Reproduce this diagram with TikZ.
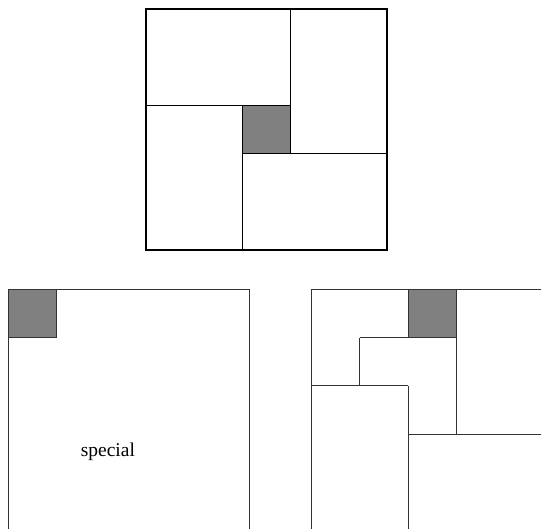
\documentclass[tikz,border=0pt]{standalone}
\usepackage{fontspec}
\setmainfont{Liberation Serif}
\begin{document}
\begin{tikzpicture}[
    every node/.style={font=\fontsize{11.5}{13}\selectfont},
    boldline/.style={draw=black, line width=0.9pt},
    thinline/.style={draw=black!80, line width=0.55pt},
    hole/.style={fill=black!50},
  ]

  % --- Frame ---
  \useasboundingbox (-3.03,-5.78) rectangle (8.20,5.19);
  \clip (-3.03,-5.78) rectangle (8.20,5.19);

  % --- Top: pinwheel ---
  \begin{scope}
    \fill[hole] (2,2) rectangle (3,3);
    \draw[boldline] (0,0) rectangle (5,5);
    \draw[boldline] (3,5) -- (3,2);
    \draw[boldline] (0,3) -- (3,3);
    \draw[boldline] (2,3) -- (2,0);
    \draw[boldline] (2,2) -- (5,2);
    \draw[boldline] (2,2) rectangle (3,3);
  \end{scope}

  % --- Bottom left: special ---
  \begin{scope}[shift={(-2.86,-5.82)}]
    \fill[hole] (0,4) rectangle (1,5);
    \draw[thinline] (0,0) rectangle (5,5);
    \draw[thinline] (0,4) rectangle (1,5);
    \node (special) at (2.07,1.63) {special};
  \end{scope}

  % --- Bottom right: staircase ---
  \begin{scope}[shift={(3.44,-5.82)}]
    \fill[hole] (2,4) rectangle (3,5);
    \draw[thinline] (0,0) rectangle (5,5);
    \draw[thinline] (2,4) rectangle (3,5);
    \draw[thinline] (1,4) -- (2,4);
    \draw[thinline] (1,4) -- (1,3);
    \draw[thinline] (0,3) -- (2,3);
    \draw[thinline] (2,3) -- (2,0);
    \draw[thinline] (2,2) -- (5,2);
    \draw[thinline] (3,4) -- (3,2);
  \end{scope}

\end{tikzpicture}
\end{document}
